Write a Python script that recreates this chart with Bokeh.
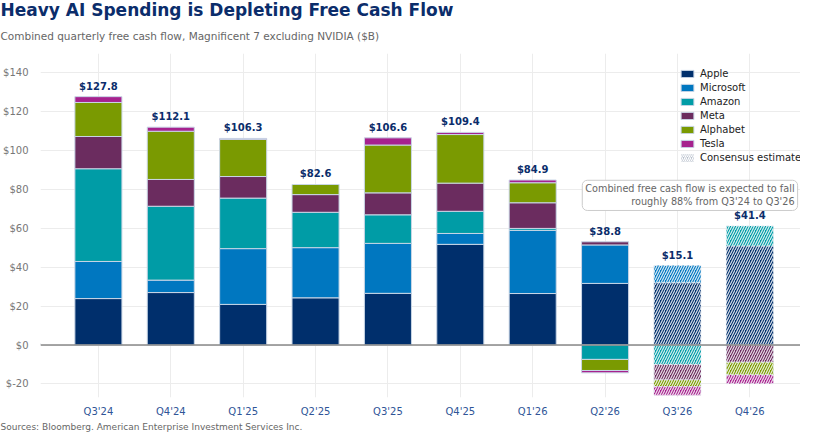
from bokeh.plotting import figure
from bokeh.models import (ColumnDataSource, FixedTicker, PrintfTickFormatter, Span,
                          Legend, LegendItem, Label, Title)
from bokeh.embed import file_html
from bokeh.resources import INLINE

quarters = ["Q3'24", "Q4'24", "Q1'25", "Q2'25", "Q3'25", "Q4'25", "Q1'26", "Q2'26", "Q3'26", "Q4'26"]
apple = [23.9, 27.0, 20.9, 24.3, 26.6, 51.8, 26.5, 31.7, 32.1, 51.0]
microsoft = [19.1, 6.4, 28.7, 25.8, 25.7, 5.6, 32.5, 19.8, 8.8, 0.0]
amazon = [47.7, 38.0, 26.0, 18.2, 14.7, 11.4, 1.0, -7.4, -10.1, 10.3]
meta = [16.6, 13.8, 11.1, 9.1, 11.3, 14.5, 13.2, 1.6, -7.9, -8.9]
alphabet = [17.5, 24.8, 19.1, 5.2, 24.6, 25.0, 10.3, -5.7, -3.4, -6.5]
tesla = [3.0, 2.1, 0.5, 0.0, 3.7, 1.1, 1.4, -1.2, -4.4, -4.5]
totals = [127.8, 112.1, 106.3, 82.6, 106.6, 109.4, 84.9, 38.8, 15.1, 41.4]
estimate = [False] * 8 + [True] * 2

companies = ["Apple", "Microsoft", "Amazon", "Meta", "Alphabet", "Tesla"]
colors = ["#002f6c", "#0077c0", "#009ca6", "#6b2c5f", "#7a9a01", "#a6228e"]
series = [apple, microsoft, amazon, meta, alphabet, tesla]

NAVY = "#0b2d6b"
FONT = "DejaVu Sans"

p = figure(width=800, height=432, x_range=(-0.8, 9.7), y_range=(-27, 150),
           output_backend="svg", toolbar_location=None,
           min_border_left=40, min_border_right=0, min_border_top=0, min_border_bottom=0)
p.outline_line_color = None

# titles (added bottom-up)
p.add_layout(Title(text="Combined quarterly free cash flow, Magnificent 7 excluding NVIDIA ($B)",
                   text_font_size="10.5px", text_font_style="normal", text_color="#666666",
                   text_font=FONT, align="left", offset=-40, standoff=23), "above")
p.add_layout(Title(text="Heavy AI Spending is Depleting Free Cash Flow",
                   text_font_size="17px", text_font_style="bold", text_color=NAVY,
                   text_font=FONT, align="left", offset=-40, standoff=-6), "above")
p.add_layout(Title(text="Sources: Bloomberg. American Enterprise Investment Services Inc.",
                   text_font_size="9px", text_font_style="normal", text_color="#666666",
                   text_font=FONT, align="left", offset=-40, standoff=1), "below")

n = len(quarters)
xs = list(range(n))
pos = [0.0] * n
neg = [0.0] * n
legend_items = []
for name, vals, col in zip(companies, series, colors):
    act = dict(x=[], bottom=[], top=[])
    est = dict(x=[], bottom=[], top=[])
    for i, v in enumerate(vals):
        if v == 0:
            continue
        if v > 0:
            b, t = pos[i], pos[i] + v
            pos[i] = t
        else:
            b, t = neg[i], neg[i] + v
            neg[i] = t
        d = est if estimate[i] else act
        d["x"].append(i)
        d["bottom"].append(b)
        d["top"].append(t)
    r = p.vbar(x="x", bottom="bottom", top="top", width=0.65, source=ColumnDataSource(act),
               fill_color=col, line_color="#c9d6e6", line_width=1)
    p.vbar(x="x", bottom="bottom", top="top", width=0.65, source=ColumnDataSource(est),
           fill_color=col, line_color="#e6ecf3", line_width=1, line_dash="3 2",
           hatch_pattern="/", hatch_color="white", hatch_alpha=0.85, hatch_scale=5, hatch_weight=1.2)
    legend_items.append(LegendItem(label=name, renderers=[r]))

# legend-only swatch for the estimates, kept off screen
dummy = p.vbar(x=[-50], bottom=[0], top=[1], width=0.65, fill_color="#b8c0cc", line_color=None,
               hatch_pattern="/", hatch_color="white", hatch_scale=4, hatch_weight=1.2)
legend_items.append(LegendItem(label="Consensus estimate", renderers=[dummy]))

# total labels
p.text(x=xs, y=pos, text=["$%.1f" % t for t in totals], y_offset=-5,
       text_align="center", text_baseline="bottom", text_font_size="10px",
       text_font_style="bold", text_color=NAVY, text_font={"value": FONT})

p.add_layout(Span(location=0, dimension="width", line_color="#888888", line_width=1.5))

legend = Legend(items=legend_items, location=(639, 234), margin=0, padding=4, spacing=3,
                glyph_width=16, glyph_height=9, label_text_font_size="10px",
                label_text_font=FONT, label_text_color="#222222", label_height=11,
                background_fill_alpha=0.0, border_line_color=None)
p.add_layout(legend)

p.add_layout(Label(x=9.66, y=77,
                   text="Combined free cash flow is expected to fall\nroughly 88% from Q3'24 to Q3'26",
                   text_align="right", text_baseline="middle", text_font_size="9.7px",
                   text_font=FONT, text_color="#666666", background_fill_color="white",
                   border_line_color="#cccccc", border_line_width=1, padding=3, border_radius=5))

p.xaxis.ticker = FixedTicker(ticks=xs)
p.xaxis.major_label_overrides = {i: q for i, q in enumerate(quarters)}
p.xaxis.axis_line_color = None
p.xaxis.major_tick_line_color = None
p.xaxis.minor_tick_line_color = None
p.xaxis.major_label_text_color = "#2f5597"
p.xaxis.major_label_text_font_size = "10px"
p.xaxis.major_label_text_font = FONT
p.xaxis.major_label_standoff = 2

p.yaxis.ticker = FixedTicker(ticks=[-20, 0, 20, 40, 60, 80, 100, 120, 140])
p.yaxis.formatter = PrintfTickFormatter(format="$%d")
p.yaxis.axis_line_color = None
p.yaxis.major_tick_line_color = None
p.yaxis.minor_tick_line_color = None
p.yaxis.major_label_text_color = "#777777"
p.yaxis.major_label_text_font_size = "10px"
p.yaxis.major_label_text_font = FONT
p.yaxis.major_label_standoff = 6

p.xgrid.grid_line_color = "#ececec"
p.ygrid.grid_line_color = "#ececec"

open("out.html", "w").write(file_html(p, INLINE))
